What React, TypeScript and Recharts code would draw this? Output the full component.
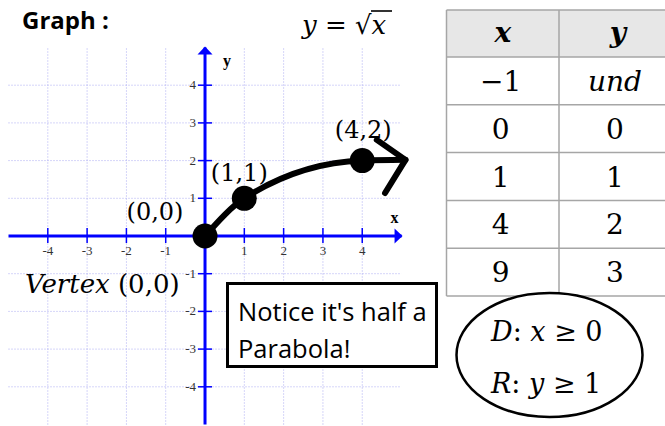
import React from "react";
import {
  ComposedChart, Line, Scatter, XAxis, YAxis, ReferenceLine, ReferenceDot,
} from "recharts";

// grid / axis ticks
const gridTicks = [-4, -3, -2, -1, 1, 2, 3, 4];
const axisMin = -5;
const axisMax = 5;
// a little room on the right for the arrow of the curve
const xDomain = [-5, 5.2];
const yDomain = [-5, 5];

// plotted key points of y = sqrt(x)
const keyPoints = [
  { x: 0, y: 0, label: "(0,0)" },
  { x: 1, y: 1, label: "(1,1)" },
  { x: 4, y: 2, label: "(4,2)" },
];

// hand drawn curve through the points, ending in an arrow
const curvePoints = [
  { x: 0, y: 0 },
  { x: 1, y: 1 },
  { x: 4, y: 2 },
  { x: 5.1, y: 2.02 },
];
const arrowHead = [
  { x: 4.37, y: 2.55 },
  { x: 5.1, y: 2.02 },
  { x: 4.58, y: 1.14 },
];

// table of values
const tableHeader = ["x", "y"];
const tableX = ["−1", "0", "1", "4", "9"];
const tableY = ["und", "0", "1", "2", "3"];

const BLUE = "#0000ff";
const GRID = "#acacf2";
const MATH = "'DejaVu Serif', serif";
const TICK_FONT = "'Liberation Serif', 'Times New Roman', serif";
const SANS = "'Open Sans', 'Liberation Sans', sans-serif";

const labelOffset: Record<string, [number, number]> = {
  "(0,0)": [-50, -16],
  "(1,1)": [-5, -17],
  "(4,2)": [1, -23],
};

const XTick = (k: number) => (p: any) => (
  <g>
    <line x1={p.cx} x2={p.cx} y1={p.cy - 8} y2={p.cy + 7} stroke={BLUE} strokeWidth={1.5} />
    <text x={p.cx} y={p.cy + 19} textAnchor="middle" fontFamily={TICK_FONT} fontSize={13} fill="#333">
      {k}
    </text>
  </g>
);

const YTick = (k: number) => (p: any) => (
  <g>
    <line x1={p.cx - 7} x2={p.cx + 7} y1={p.cy} y2={p.cy} stroke={BLUE} strokeWidth={1.5} />
    <text x={p.cx - 9} y={p.cy + 4} textAnchor="end" fontFamily={TICK_FONT} fontSize={13} fill="#333">
      {k}
    </text>
  </g>
);

const UpArrow = (p: any) => (
  <g>
    <polygon points={`${p.cx},${p.cy - 1} ${p.cx - 7.5},${p.cy + 7} ${p.cx + 7.5},${p.cy + 7}`} fill={BLUE} />
    <text x={p.cx + 22} y={p.cy + 18} textAnchor="middle" fontFamily={TICK_FONT} fontWeight="bold" fontSize={16}>
      y
    </text>
  </g>
);

const RightArrow = (p: any) => (
  <g>
    <polygon points={`${p.cx + 1},${p.cy} ${p.cx - 7},${p.cy - 7.5} ${p.cx - 7},${p.cy + 7.5}`} fill={BLUE} />
    <text x={p.cx - 7} y={p.cy - 13} textAnchor="middle" fontFamily={TICK_FONT} fontWeight="bold" fontSize={16}>
      x
    </text>
  </g>
);

const PointShape = (p: any) => {
  const [dx, dy] = labelOffset[p.payload.label] || [0, -20];
  return (
    <g>
      <circle cx={p.cx} cy={p.cy} r={12.5} fill="#000" />
      <text x={p.cx + dx} y={p.cy + dy} textAnchor="middle" fontFamily={MATH} fontSize={24} fill="#000">
        {p.payload.label}
      </text>
    </g>
  );
};

const ROW_TOP = 10;
const HEAD_H = 47;
const ROW_H = 47.8;
const COL_L = 446.5;
const COL_M = 559;
const COL_R = 671;
const TABLE_FONT = 28;

export default function App() {
  const rowYs = tableX.map((_, i) => ROW_TOP + HEAD_H + i * ROW_H);
  const tableBottom = ROW_TOP + HEAD_H + tableX.length * ROW_H;
  return (
    <div style={{ position: "absolute", left: 0, top: 0, width: 665, height: 426, background: "#fff", overflow: "hidden" }}>
      <ComposedChart width={665} height={426} margin={{ top: 47.5, right: 255.6, bottom: 1.5, left: 8.5 }}>
        <XAxis type="number" dataKey="x" domain={xDomain} ticks={gridTicks} hide />
        <YAxis type="number" dataKey="y" domain={yDomain} ticks={gridTicks} hide />
        {/* dotted grid */}
        {gridTicks.map((k) => (
          <ReferenceLine
            key={"gv" + k}
            segment={[{ x: k, y: axisMin }, { x: k, y: axisMax }]}
            stroke={GRID}
            strokeDasharray="1 2"
          />
        ))}
        {gridTicks.map((k) => (
          <ReferenceLine
            key={"gh" + k}
            segment={[{ x: axisMin, y: k }, { x: axisMax, y: k }]}
            stroke={GRID}
            strokeDasharray="1 2"
          />
        ))}
        {/* axes */}
        <ReferenceLine segment={[{ x: 0, y: axisMin }, { x: 0, y: axisMax }]} stroke={BLUE} strokeWidth={3} />
        <ReferenceLine segment={[{ x: axisMin, y: 0 }, { x: axisMax, y: 0 }]} stroke={BLUE} strokeWidth={3} />
        {gridTicks.map((k) => (
          <ReferenceDot key={"x" + k} x={k} y={0} shape={XTick(k)} />
        ))}
        {gridTicks.map((k) => (
          <ReferenceDot key={"y" + k} x={0} y={k} shape={YTick(k)} />
        ))}
        <ReferenceDot x={0} y={axisMax} shape={UpArrow} />
        <ReferenceDot x={axisMax} y={0} shape={RightArrow} />
        <Line
          data={curvePoints}
          dataKey="y"
          type="monotone"
          stroke="#000"
          strokeWidth={6}
          dot={false}
          strokeLinecap="round"
          isAnimationActive={false}
        />
        <Line
          data={arrowHead}
          dataKey="y"
          type="linear"
          stroke="#000"
          strokeWidth={6}
          dot={false}
          strokeLinecap="round"
          strokeLinejoin="round"
          isAnimationActive={false}
        />
        <Scatter data={keyPoints} dataKey="y" shape={PointShape} isAnimationActive={false} />
      </ComposedChart>

      <svg width={665} height={426} style={{ position: "absolute", left: 0, top: 0, pointerEvents: "none" }}>
        <text x={22} y={29} fontFamily={SANS} fontWeight="bold" fontSize={24}>Graph :</text>
        <text x={302} y={34} fontFamily={MATH} fontSize={26}>
          <tspan fontStyle="italic">y</tspan> = √<tspan fontStyle="italic">x</tspan>
        </text>
        <line x1={371} x2={392} y1={11} y2={11} stroke="#000" strokeWidth={1.6} />
        <text x={25} y={293} fontFamily={MATH} fontSize={26}>
          <tspan fontStyle="italic">Vertex</tspan> (0,0)
        </text>

        <rect x={227.5} y={283.5} width={209} height={83} fill="#fff" stroke="#000" strokeWidth={3} />
        <text x={238} y={321} fontFamily={SANS} fontSize={25.5}>Notice it's half a</text>
        <text x={238} y={358} fontFamily={SANS} fontSize={25.5}>Parabola!</text>

        <rect x={COL_L} y={ROW_TOP} width={COL_R - COL_L} height={HEAD_H} fill="#e7e7e7" />
        {[ROW_TOP, ...rowYs, tableBottom].map((y, i) => (
          <line key={"h" + i} x1={COL_L} x2={COL_R} y1={y} y2={y} stroke="#a6a6a6" strokeWidth={1.5} />
        ))}
        {[COL_L, COL_M].map((x, i) => (
          <line key={"v" + i} x1={x} x2={x} y1={ROW_TOP} y2={tableBottom} stroke="#a6a6a6" strokeWidth={1.5} />
        ))}
        {tableHeader.map((h, i) => (
          <text
            key={h}
            x={i === 0 ? (COL_L + COL_M) / 2 : (COL_M + COL_R) / 2 + 3}
            y={ROW_TOP + HEAD_H / 2 + 8}
            textAnchor="middle"
            fontFamily={MATH}
            fontStyle="italic"
            fontWeight="bold"
            fontSize={TABLE_FONT}
          >
            {h}
          </text>
        ))}
        {tableX.map((v, i) => (
          <text key={"tx" + i} x={(COL_L + COL_M) / 2 - 2} y={rowYs[i] + ROW_H / 2 + 10} textAnchor="middle" fontFamily={MATH} fontSize={TABLE_FONT}>
            {v}
          </text>
        ))}
        {tableY.map((v, i) => (
          <text
            key={"ty" + i}
            x={(COL_M + COL_R) / 2}
            y={rowYs[i] + ROW_H / 2 + 10}
            textAnchor="middle"
            fontFamily={MATH}
            fontStyle={v === "und" ? "italic" : "normal"}
            fontSize={TABLE_FONT}
          >
            {v}
          </text>
        ))}

        <ellipse cx={549.5} cy={355} rx={93} ry={62} fill="#fff" stroke="#000" strokeWidth={2.5} />
        <text x={491} y={341} fontFamily={MATH} fontSize={27}>
          <tspan fontStyle="italic">D</tspan>: <tspan fontStyle="italic">x</tspan> ≥ 0
        </text>
        <text x={491} y={393} fontFamily={MATH} fontSize={27}>
          <tspan fontStyle="italic">R</tspan>: <tspan fontStyle="italic">y</tspan> ≥ 1
        </text>
      </svg>
    </div>
  );
}
